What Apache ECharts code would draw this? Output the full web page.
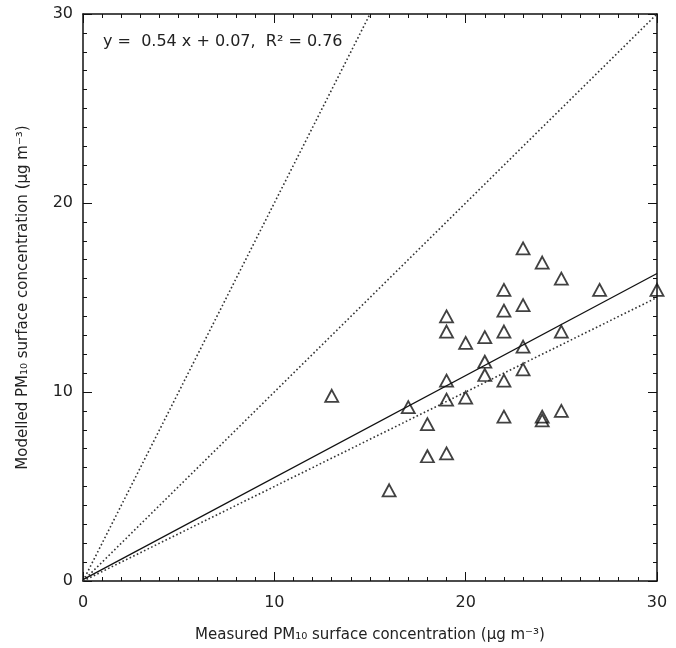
<!DOCTYPE html>
<html>
<head>
<meta charset="utf-8">
<script src="https://cdn.jsdelivr.net/npm/echarts@6/dist/echarts.min.js"></script>
<style>
  html, body { margin: 0; padding: 0; background: #fff; }
  #area { width: 676px; height: 648px; }
</style>
</head>
<body>
<div id="area"></div>
<script>
// measured vs modelled PM10 (ug m-3)
const measured = [13, 16, 17, 18, 18, 19, 19, 19, 19, 19, 20, 20, 21, 21, 21,
  22, 22, 22, 22, 22, 23, 23, 23, 23, 24, 24, 24, 25, 25, 25, 27, 30];
const modelled = [9.8, 4.8, 9.2, 8.3, 6.6, 6.75, 10.6, 9.6, 14.0, 13.2, 12.6, 9.7, 12.9, 11.6, 10.9,
  15.4, 14.3, 13.2, 10.6, 8.7, 17.6, 14.6, 12.4, 11.2, 16.85, 8.7, 8.5, 16.0, 13.2, 9.0, 15.4, 15.4];
const fitSlope = 0.54;
const fitIntercept = 0.07;
const rSquared = 0.76;
const refSlopes = [2, 1, 0.5];   // factor-of-two lines
const axisMax = 30;
const tickLabels = [0, 10, 20, 30];

const points = measured.map((x, i) => [x, modelled[i]]);
const fitLine = [[0, fitIntercept], [axisMax, fitSlope * axisMax + fitIntercept]];

const ink = '#111';
const font = 'DejaVu Sans';

function refLine(k) {
  const xEnd = Math.min(axisMax, axisMax / k);
  return {
    type: 'line',
    data: [[0, 0], [xEnd, k * xEnd]],
    showSymbol: false,
    silent: true,
    lineStyle: { color: '#333', width: 1.6, type: [1.6, 2.4] }
  };
}

function axisBase(pos, showLabel) {
  return {
    type: 'value',
    position: pos,
    min: 0,
    max: axisMax,
    interval: 10,
    splitLine: { show: false },
    axisLine: { show: true, onZero: false, lineStyle: { color: ink, width: 1.5 } },
    axisTick: { show: true, inside: true, length: 9, lineStyle: { color: ink, width: 1 } },
    minorTick: { show: true, splitNumber: 10, length: 4, lineStyle: { color: ink, width: 1 } },
    axisLabel: {
      show: showLabel, color: '#222', fontFamily: font, fontSize: 16,
      margin: pos === 'bottom' ? 14 : 10,
      formatter: v => tickLabels.indexOf(v) >= 0 ? String(v) : ''
    }
  };
}

let myChart;
function draw() {
  const xMain = Object.assign(axisBase('bottom', true), {
    name: 'Measured PM\u2081\u2080 surface concentration (\u03bcg m\u207b\u00b3)',
    nameLocation: 'middle',
    nameGap: 47,
    nameTextStyle: { color: '#222', fontFamily: font, fontSize: 15 }
  });
  const yMain = Object.assign(axisBase('left', true), {
    name: 'Modelled PM\u2081\u2080 surface concentration (\u03bcg m\u207b\u00b3)',
    nameLocation: 'middle',
    nameGap: 52,
    nameTextStyle: { color: '#222', fontFamily: font, fontSize: 15 }
  });
  let option = {
    animation: false,
    backgroundColor: '#fff',
    grid: { left: 83, top: 14, right: 19, bottom: 65 },
    xAxis: [xMain, axisBase('top', false)],
    yAxis: [yMain, axisBase('right', false)],
    graphic: [{
      type: 'text',
      left: 103,
      top: 34,
      style: {
        text: 'y =  ' + fitSlope.toFixed(2) + ' x + ' + fitIntercept.toFixed(2) + ',  R\u00b2 = ' + rSquared.toFixed(2),
        fill: '#222',
        font: '16px "DejaVu Sans"'
      }
    }],
    series: refSlopes.map(refLine).concat([
      {
        type: 'line',
        data: fitLine,
        showSymbol: false,
        silent: true,
        lineStyle: { color: ink, width: 1.3 }
      },
      {
        type: 'scatter',
        data: points,
        symbol: 'path://M0,-1L1,1L-1,1Z',
        symbolSize: [13, 12],
        itemStyle: { color: 'rgba(255,255,255,0)', borderColor: ink, borderWidth: 1.8 },
        z: 5
      }
    ])
  };
  myChart = echarts.init(document.getElementById('area'));
  myChart.setOption(option);
}
draw();
</script>
</body>
</html>
